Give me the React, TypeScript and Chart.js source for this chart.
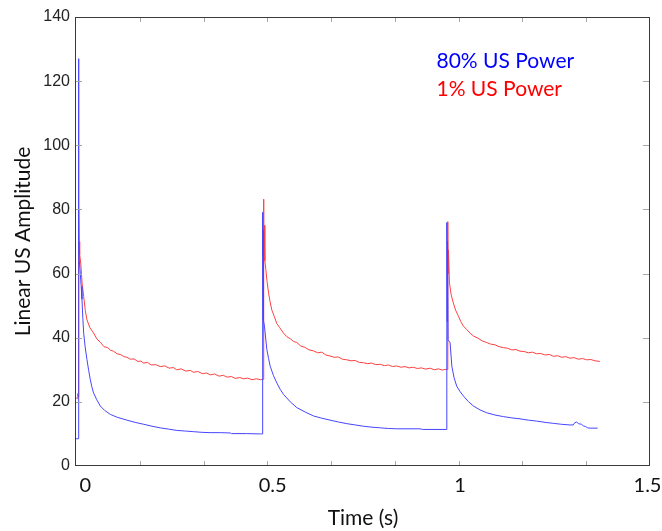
import { useEffect, useRef } from 'react';
import { Chart, registerables } from 'chart.js';

Chart.register(...registerables);

// ---- axis settings ----
const X_MIN = -0.0248;
const X_MAX = 1.5067;
const xTickLabels = [0, 0.5, 1, 1.5];
const X_TICK_DIVISIONS = 9;
const yTickValues = [0, 20, 40, 60, 80, 100, 120, 140];
const seriesNames = ['80% US Power', '1% US Power'];
const xTitle = 'Time (s)';
const yTitle = 'Linear US Amplitude';

// ---- 80% US Power (blue) ----
const blueTime = [
  -0.0245, -0.0185, -0.0182, -0.0178, -0.0175, -0.017, -0.016, -0.0133, -0.011, -0.0089,
  -0.0065, -0.0044, 0.0, 0.0044, 0.009, 0.0133, 0.0175, 0.022, 0.03, 0.04,
  0.052, 0.0667, 0.085, 0.111, 0.133, 0.156, 0.178, 0.2, 0.222, 0.244,
  0.267, 0.289, 0.311, 0.333, 0.36, 0.387, 0.39, 0.43, 0.467, 0.4725,
  0.4729, 0.4732, 0.4738, 0.4742, 0.475, 0.478, 0.4844, 0.489, 0.4933, 0.502,
  0.511, 0.52, 0.529, 0.547, 0.5644, 0.587, 0.609, 0.631, 0.653, 0.676,
  0.698, 0.72, 0.742, 0.765, 0.787, 0.809, 0.831, 0.893, 0.9, 0.964,
  0.9644, 0.9648, 0.9655, 0.9665, 0.968, 0.9733, 0.978, 0.984, 0.991, 1.0,
  1.009, 1.022, 1.0356, 1.053, 1.071, 1.093, 1.1156, 1.138, 1.16, 1.182,
  1.2044, 1.227, 1.249, 1.271, 1.293, 1.302, 1.306, 1.311, 1.316, 1.324,
  1.329, 1.335, 1.34, 1.347, 1.367,
];
const blueValue = [
  8.5, 8.5, 127, 92, 110, 70.5, 64, 60, 56, 52,
  46, 41.5, 36.8, 33.2, 29.8, 27, 24.7, 22.8, 20.8, 18.7,
  17.3, 16.1, 15.2, 14.3, 13.6, 13.0, 12.4, 11.9, 11.5, 11.1,
  10.9, 10.7, 10.5, 10.4, 10.4, 10.3, 10.1, 10.1, 10.0, 10.0,
  10.0, 79.1, 65.3, 73.6, 45.6, 43.6, 36.3, 33.5, 31.1, 28.2,
  25.9, 23.9, 22.3, 20.0, 18.2, 16.8, 15.6, 14.9, 14.3, 13.7,
  13.2, 12.8, 12.4, 12.1, 11.9, 11.7, 11.6, 11.6, 11.4, 11.4,
  11.4, 75.9, 45, 70, 39.4, 38.4, 31.1, 27.5, 24.9, 23.2,
  21.8, 20.1, 18.7, 17.5, 16.6, 15.9, 15.4, 15.0, 14.7, 14.3,
  14.0, 13.6, 13.3, 13.0, 12.8, 12.8, 13.5, 13.7, 13.2, 13.0,
  12.5, 12.3, 11.9, 11.8, 11.8,
];

// ---- 1% US Power (red) ----
const redTime = [
  -0.0245, -0.0215, -0.02, -0.0188, -0.018, -0.0172, -0.0165, -0.015, -0.012, -0.0085,
  -0.0044, 0.0, 0.0044, 0.012, 0.022, 0.031, 0.04, 0.05, 0.06, 0.067,
  0.075, 0.085, 0.095, 0.103, 0.111, 0.12, 0.13, 0.14, 0.148, 0.156,
  0.166, 0.176, 0.188, 0.2, 0.212, 0.224, 0.235, 0.244, 0.256, 0.268,
  0.28, 0.289, 0.3, 0.312, 0.324, 0.333, 0.345, 0.357, 0.368, 0.378,
  0.39, 0.4, 0.412, 0.422, 0.433, 0.445, 0.456, 0.467, 0.475, 0.4756,
  0.4765, 0.4775, 0.479, 0.4818, 0.485, 0.4889, 0.493, 0.4978, 0.504, 0.511,
  0.519, 0.529, 0.538, 0.548, 0.556, 0.5644, 0.575, 0.586, 0.597, 0.609,
  0.62, 0.631, 0.642, 0.653, 0.664, 0.675, 0.686, 0.698, 0.709, 0.72,
  0.731, 0.742, 0.753, 0.764, 0.775, 0.787, 0.798, 0.809, 0.82, 0.831,
  0.842, 0.853, 0.864, 0.875, 0.886, 0.897, 0.908, 0.92, 0.931, 0.942,
  0.953, 0.96, 0.966, 0.9672, 0.968, 0.969, 0.9716, 0.976, 0.982, 0.988,
  0.9956, 1.002, 1.009, 1.018, 1.027, 1.036, 1.047, 1.059, 1.071, 1.082,
  1.093, 1.104, 1.116, 1.127, 1.138, 1.149, 1.16, 1.171, 1.182, 1.193,
  1.204, 1.215, 1.227, 1.238, 1.249, 1.26, 1.271, 1.282, 1.293, 1.304,
  1.315, 1.327, 1.338, 1.349, 1.36, 1.373,
];
const redValue = [
  21.3, 21.0, 22.6, 21.6, 80.0, 78.5, 70.0, 66.0, 63.0, 57.0,
  52.9, 48.5, 45.6, 43.2, 41.5, 39.6, 38.6, 37.2, 36.9, 36.1,
  35.8, 35.0, 34.7, 34.1, 33.9, 33.3, 33.4, 32.6, 32.7, 32.1,
  32.3, 31.5, 31.6, 31.0, 31.2, 30.5, 30.7, 30.0, 30.3, 29.6,
  29.8, 29.2, 29.5, 28.8, 29.0, 28.4, 28.7, 28.0, 28.3, 27.7,
  27.9, 27.3, 27.6, 27.2, 27.4, 26.9, 27.2, 26.9, 27.0, 83.2,
  70.0, 75.0, 64.0, 61.2, 57.5, 54.0, 51.2, 48.6, 46.7, 44.4,
  43.1, 41.4, 40.3, 39.6, 38.8, 38.5, 37.4, 37.0, 36.2, 35.9,
  35.3, 35.5, 34.6, 34.3, 33.9, 34.0, 33.3, 33.1, 32.8, 32.9,
  32.3, 32.2, 31.9, 32.1, 31.6, 31.7, 31.3, 31.5, 31.0, 31.2,
  30.8, 31.0, 30.6, 30.8, 30.4, 30.6, 30.2, 30.5, 30.0, 30.3,
  29.9, 30.1, 30.1, 76.2, 60.0, 67.4, 57.1, 53.5, 50.8, 48.6,
  46.7, 45.0, 43.6, 42.5, 41.4, 40.5, 39.9, 39.0, 38.5, 38.0,
  37.8, 37.2, 36.9, 36.7, 36.2, 36.3, 35.8, 35.7, 35.3, 35.5,
  35.0, 35.1, 34.6, 34.8, 34.2, 34.4, 33.9, 34.1, 33.6, 33.8,
  33.3, 33.5, 33.1, 33.2, 32.8, 32.6,
];

const toPoints = (t: number[], v: number[]) => t.map((x, i) => ({ x, y: v[i] }));

const framePlugin = {
  id: 'frame',
  afterDatasetsDraw(chart: any) {
    const { ctx, chartArea, scales } = chart;
    const { left, right, top, bottom } = chartArea;
    const xs = scales.x;
    const ys = scales.y;
    ctx.save();
    ctx.lineWidth = 1;
    ctx.strokeStyle = '#a6a6a6';
    ctx.beginPath();
    for (let i = 1; i < X_TICK_DIVISIONS; i++) {
      const v = X_MIN + (i * (X_MAX - X_MIN)) / X_TICK_DIVISIONS;
      const px = Math.round(xs.getPixelForValue(v)) + 0.5;
      ctx.moveTo(px, bottom);
      ctx.lineTo(px, bottom - 5);
      ctx.moveTo(px, top);
      ctx.lineTo(px, top + 5);
    }
    for (const v of yTickValues) {
      if (v === yTickValues[0] || v === yTickValues[yTickValues.length - 1]) continue;
      const py = Math.round(ys.getPixelForValue(v)) + 0.5;
      ctx.moveTo(left, py);
      ctx.lineTo(left + 6, py);
      ctx.moveTo(right, py);
      ctx.lineTo(right - 7, py);
    }
    ctx.stroke();
    ctx.strokeStyle = '#3a3a3a';
    const l = Math.round(left) - 0.5;
    const t = Math.round(top) + 0.5;
    const r = Math.round(right) - 0.5;
    const b = Math.round(bottom) - 0.5;
    ctx.strokeRect(l, t, r - l, b - t);
    ctx.restore();
  },
};

const legendPlugin = {
  id: 'textLegend',
  afterDraw(chart: any) {
    const { ctx, chartArea } = chart;
    ctx.save();
    ctx.font = '21px Lato';
    ctx.textAlign = 'left';
    ctx.textBaseline = 'alphabetic';
    const x0 = chart.scales.x.getPixelForValue(0.937);
    chart.data.datasets.forEach((ds: any, i: number) => {
      ctx.fillStyle = ds.textColor;
      ctx.fillText(ds.label, x0, chartArea.top + 51 + i * 28);
    });
    ctx.restore();
  },
};

export default function App() {
  const ref = useRef<HTMLCanvasElement | null>(null);
  useEffect(() => {
    if (!ref.current) return;
    const chart = new Chart(ref.current, {
      type: 'line',
      data: {
        datasets: [
          {
            label: seriesNames[0],
            data: toPoints(blueTime, blueValue),
            borderColor: '#4545ff',
            textColor: '#0000ff',
            borderWidth: 1,
            pointRadius: 0,
            tension: 0,
          } as any,
          {
            label: seriesNames[1],
            data: toPoints(redTime, redValue),
            borderColor: '#ff4040',
            textColor: '#ff0000',
            borderWidth: 1,
            pointRadius: 0,
            tension: 0,
          } as any,
        ],
      },
      options: {
        animation: false,
        responsive: false,
        devicePixelRatio: 1,
        layout: { padding: { top: 17, right: 12, left: 0, bottom: 0 } },
        plugins: { legend: { display: false }, tooltip: { enabled: false } },
        scales: {
          x: {
            type: 'linear',
            min: X_MIN,
            max: X_MAX,
            afterBuildTicks: (s: any) => {
              s.ticks = xTickLabels.map((v) => ({ value: v }));
            },
            afterFit: (s: any) => {
              s.height = 65;
              s.paddingLeft = 0;
              s.paddingRight = 0;
            },
            grid: { display: false, drawTicks: false },
            border: { display: false },
            ticks: {
              autoSkip: false,
              maxRotation: 0,
              padding: 8,
              color: '#111',
              font: { family: 'Lato', size: 20 },
              callback: (v: any) => String(v),
            },
            title: {
              display: true,
              text: xTitle,
              color: '#111',
              font: { family: 'Lato', size: 21 },
              padding: { top: 0, bottom: 0 },
            },
          },
          y: {
            min: 0,
            max: 140,
            afterBuildTicks: (s: any) => {
              s.ticks = yTickValues.map((v) => ({ value: v }));
            },
            afterFit: (s: any) => {
              s.width = 76;
              s.paddingTop = 0;
              s.paddingBottom = 0;
            },
            grid: { display: false, drawTicks: false },
            border: { display: false },
            ticks: {
              padding: 6,
              color: '#222',
              font: { family: 'Liberation Sans', size: 16 },
            },
            title: {
              display: true,
              text: yTitle,
              color: '#111',
              font: { family: 'Lato', size: 21 },
              padding: { top: 11, bottom: 0 },
            },
          },
        },
      } as any,
      plugins: [framePlugin, legendPlugin],
    });
    return () => chart.destroy();
  }, []);
  return (
    <div style={{ position: 'absolute', left: 0, top: 0, width: 662, height: 531, background: '#fff' }}>
      <canvas ref={ref} width={662} height={531} style={{ display: 'block' }} />
    </div>
  );
}
